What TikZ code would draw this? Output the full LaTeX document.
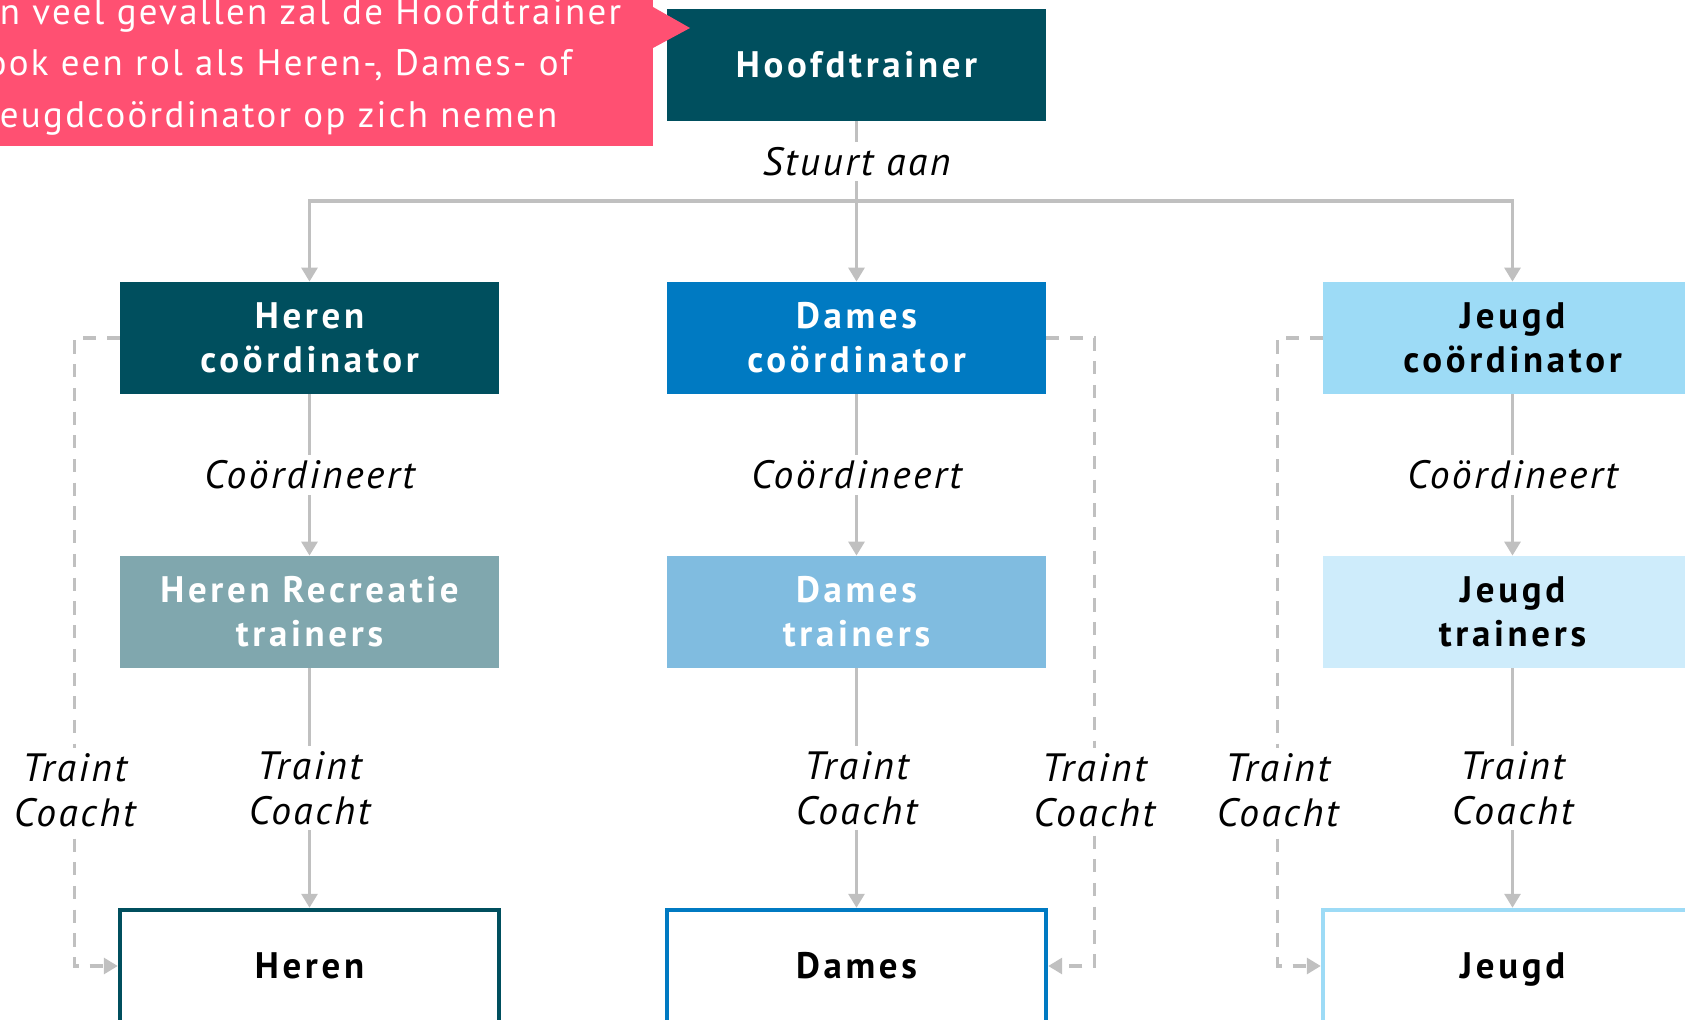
\documentclass[tikz,border=0pt]{standalone}
\usepackage{fontspec}
\setmainfont{PT Sans}
\newfontfamily\boxfont[LetterSpace=10]{PT Sans}
\newfontfamily\lblfont[LetterSpace=6.4]{PT Sans}
\newfontfamily\notefont[LetterSpace=6.3]{PT Sans}
\usetikzlibrary{arrows.meta}

\definecolor{herencol}{RGB}{0,79,94}
\definecolor{herenlight}{RGB}{128,167,174}
\definecolor{damescol}{RGB}{0,122,194}
\definecolor{dameslight}{RGB}{128,188,224}
\definecolor{jeugdcol}{RGB}{157,219,246}
\definecolor{jeugdlight}{RGB}{206,236,251}
\definecolor{notecol}{RGB}{255,80,114}
\definecolor{linecol}{RGB}{192,192,192}

\tikzset{
  rolbox/.style={rectangle, minimum width=7.58cm, minimum height=2.24cm,
    inner sep=0pt, align=center, text=white,
    font=\boxfont\fontsize{21}{25}\selectfont\bfseries},
  teambox/.style={rolbox, fill=white, text=black, line width=2.5pt,
    text height=14.7pt, text depth=0pt},
  lbl/.style={fill=white, align=center, inner sep=3pt,
    font=\lblfont\fontsize{22.5}{25.5}\selectfont\itshape},
  conn/.style={draw=linecol, line width=2pt},
  arr/.style={conn, -{Triangle[length=8pt,width=9pt]}},
  dasharr/.style={arr, dash pattern=on 7.5pt off 6pt},
}

\begin{document}
\begin{tikzpicture}[x=0.02cm, y=-0.02cm]
  \useasboundingbox (0,0) rectangle (1685,1020);
  \clip (0,0) rectangle (1685,1020);

  % top
  \node (hoofd) at (856.5,65) [rolbox, fill=herencol] {Hoofdtrainer};
  \coordinate (split) at (856.5,201);

  % coordinatoren
  \node (hcoord) at (309.5,338) [rolbox, fill=herencol] {Heren\\coördinator};
  \node (dcoord) at (856.5,338) [rolbox, fill=damescol] {Dames\\coördinator};
  \node (jcoord) at (1512.5,338) [rolbox, fill=jeugdcol, text=black] {Jeugd\\coördinator};

  % trainers
  \node (htrain) at (309.5,612) [rolbox, fill=herenlight] {Heren Recreatie\\trainers};
  \node (dtrain) at (856.5,612) [rolbox, fill=dameslight] {Dames\\trainers};
  \node (jtrain) at (1512.5,612) [rolbox, fill=jeugdlight, text=black] {Jeugd\\trainers};

  % teams
  \node (heren) at (309.5,966) [teambox, draw=herencol] {Heren};
  \node (dames) at (856.5,966) [teambox, draw=damescol] {Dames};
  \node (jeugd) at (1512.5,966) [teambox, draw=jeugdcol] {Jeugd};

  \draw[conn] (hoofd) -- node[lbl] {Stuurt aan} (split);
  \draw[arr] (split) -- (dcoord);
  \draw[arr] (split) -| (hcoord);
  \draw[arr] (split) -| (jcoord);

  \draw[arr] (hcoord) -- node[lbl] {Coördineert} (htrain);
  \draw[arr] (dcoord) -- node[lbl] {Coördineert} (dtrain);
  \draw[arr] (jcoord) -- node[lbl] {Coördineert} (jtrain);

  \draw[arr] (htrain) -- node[lbl] {Traint\\Coacht} (heren);
  \draw[arr] (dtrain) -- node[lbl] {Traint\\Coacht} (dames);
  \draw[arr] (jtrain) -- node[lbl] {Traint\\Coacht} (jeugd);

  % coordinator traint zelf ook
  \draw[dasharr] (hcoord.west) -- ++(-45,0) |- node[lbl, pos=0.36] {Traint\\Coacht} (heren.west);
  \draw[dasharr] (dcoord.east) -- ++(48,0) |- node[lbl, pos=0.36] {Traint\\Coacht} (dames.east);
  \draw[dasharr] (jcoord.west) -- ++(-45,0) |- node[lbl, pos=0.36] {Traint\\Coacht} (jeugd.west);

  % opmerking
  \node (note) at (653,146) [anchor=south east, fill=notecol, text=white,
    text width=13.14cm, align=left, inner xsep=0.18cm, inner ysep=0.2cm,
    font=\notefont\fontsize{21}{29.5}\selectfont]
    {In veel gevallen zal de Hoofdtrainer\\ook een rol als Heren-, Dames- of\\Jeugdcoördinator op zich nemen};
  \fill[notecol] (653,7) -- (690,28) -- (653,48) -- cycle;
\end{tikzpicture}
\end{document}
